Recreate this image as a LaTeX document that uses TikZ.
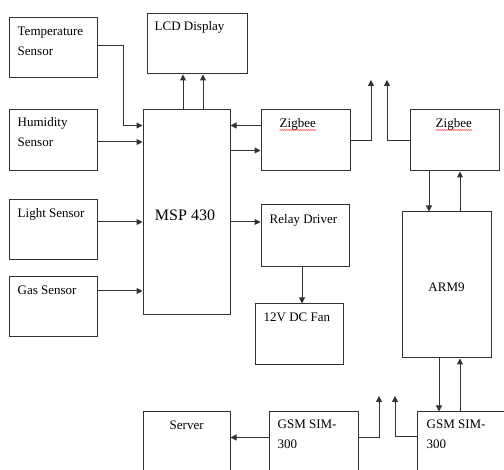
\documentclass[tikz,border=0pt]{standalone}
\usepackage{fontspec}
\setmainfont{Liberation Serif}
\usetikzlibrary{arrows.meta,decorations.pathmorphing}
\begin{document}
\begin{tikzpicture}[x=1pt, y=-1pt,
    box/.style={draw=black!80, line width=1pt, minimum width=88pt, minimum height=60pt, inner sep=0pt},
    lbl/.style={anchor=base west, inner sep=0pt, align=left, font=\fontsize{13}{20}\selectfont},
    arr/.style={draw=black!80, line width=1pt, -{Triangle[length=6pt,width=6pt]}},
    squig/.style={red, line width=0.4pt, decorate, decoration={snake, amplitude=0.5pt, segment length=2pt}}]
    \useasboundingbox (0,0) rectangle (504,470);
    \clip (0,0) rectangle (504,470);
    \fill[white] (0,0) rectangle (504,470);
    % Sensors
    \node[box] (temp) at (53,48) {};
    \node[box, minimum height=61pt] (humid) at (53,140.5) {};
    \node[box] (light) at (53,230) {};
    \node[box] (gas) at (53,307) {};
    \node[lbl] (temp-t) at ([xshift=9pt,yshift=-38pt]temp.north west) {Temperature\\Sensor};
    \node[lbl] (humid-t) at ([xshift=9pt,yshift=-37pt]humid.north west) {Humidity\\Sensor};
    \node[lbl] (light-t) at ([xshift=9pt,yshift=-18pt]light.north west) {Light Sensor};
    \node[lbl] (gas-t) at ([xshift=9pt,yshift=-18pt]gas.north west) {Gas Sensor};
    % Controller and display
    \node[box, minimum width=87pt, minimum height=205pt] (msp) at (186.5,212.5) {};
    \node[inner sep=0pt, font=\fontsize{16}{20}\selectfont] (msp-t) at ([xshift=-1.5pt,yshift=-106pt]msp.north) {MSP 430};
    \node[box, minimum width=100pt] (lcd) at (197,44) {};
    \node[lbl] (lcd-t) at ([xshift=8pt,yshift=-17pt]lcd.north west) {LCD Display};
    % Zigbee link
    \node[box, minimum width=89pt, minimum height=61pt] (zig1) at (305.5,140.5) {};
    \node[lbl] (zig1-t) at ([xshift=19pt,yshift=-18pt]zig1.north west) {Zigbee};
    \node[box, minimum width=89pt, minimum height=61pt] (zig2) at (454.5,140.5) {};
    \node[lbl] (zig2-t) at ([xshift=26pt,yshift=-18pt]zig2.north west) {Zigbee};
    \draw[squig] ([yshift=-2.5pt]zig1-t.base west) -- ([yshift=-2.5pt]zig1-t.base east);
    \draw[squig] ([yshift=-2.5pt]zig2-t.base west) -- ([yshift=-2.5pt]zig2-t.base east);
    % Fan control
    \node[box, minimum height=62pt] (relay) at (305,236) {};
    \node[lbl] (relay-t) at ([xshift=9pt,yshift=-19pt]relay.north west) {Relay Driver};
    \node[box, minimum height=61pt] (fan) at (299,334.5) {};
    \node[lbl] (fan-t) at ([xshift=9pt,yshift=-18pt]fan.north west) {12V DC Fan};
    % ARM side
    \node[box, minimum width=89pt, minimum height=146pt] (arm) at (446.5,285) {};
    \node[inner sep=0pt, font=\fontsize{13}{20}\selectfont] (arm-t) at ([yshift=-2pt]arm.center) {ARM9};
    % GSM link
    \node[box, minimum width=87pt, minimum height=70pt] (server) at (186.5,447) {};
    \node[lbl] (server-t) at ([xshift=27pt,yshift=-18pt]server.north west) {Server};
    \node[box, minimum width=89pt, minimum height=70pt] (gsm1) at (313.5,447) {};
    \node[lbl] (gsm1-t) at ([xshift=9pt,yshift=-37pt]gsm1.north west) {GSM SIM-\\300};
    \node[box, minimum width=90pt, minimum height=70pt] (gsm2) at (462,447) {};
    \node[lbl] (gsm2-t) at ([xshift=10pt,yshift=-37pt]gsm2.north west) {GSM SIM-\\300};
    % Free ends of the wireless lines
    \coordinate (zig1-up) at (371,80);
    \coordinate (zig2-up) at (387,80);
    \coordinate (gsm1-up) at (379,396);
    \coordinate (gsm2-up) at (395,396);
    % Sensor inputs
    \draw[arr] ([yshift=2pt]temp.east) -- ++(26,0) |- ([yshift=-16pt]msp.north west);
    \draw[arr] ([yshift=-1.5pt]humid.east) -- ([yshift=-1.5pt]humid.east -| msp.west);
    \draw[arr] ([yshift=8pt]light.east) -- ([yshift=8pt]light.east -| msp.west);
    \draw[arr] ([yshift=16pt]gas.east) -- ([yshift=16pt]gas.east -| msp.west);
    % MSP outputs
    \draw[arr] ([xshift=-3.5pt]msp.north) -- ([xshift=-3.5pt]msp.north |- lcd.south);
    \draw[arr] ([xshift=16.5pt]msp.north) -- ([xshift=16.5pt]msp.north |- lcd.south);
    \draw[arr] ([yshift=-16pt]zig1.north west) -- ([yshift=-16pt]zig1.north west -| msp.east);
    \draw[arr] ([yshift=-41pt]msp.north east) -- ([yshift=-41pt]msp.north east -| zig1.west);
    \draw[arr] ([yshift=14pt]relay.west -| msp.east) -- ([yshift=14pt]relay.west);
    \draw[arr] ([xshift=-3pt]relay.south) -- ([xshift=-3pt]relay.south |- fan.north);
    % Wireless links
    \draw[arr] (zig1.east) -| (zig1-up);
    \draw[arr] (zig2.west) -| (zig2-up);
    \draw[arr] ([yshift=-26pt]gsm1.north east) -| (gsm1-up);
    \draw[arr] ([yshift=-25pt]gsm2.north west) -| (gsm2-up);
    \draw[arr] ([yshift=-26pt]gsm1.north west) -- ([yshift=-26pt]gsm1.north west -| server.east);
    % ARM connections
    \draw[arr] ([xshift=-25.5pt]zig2.south) -- ([xshift=-25.5pt]zig2.south |- arm.north);
    \draw[arr] ([xshift=13.5pt]arm.north) -- ([xshift=13.5pt]arm.north |- zig2.south);
    \draw[arr] ([xshift=-7.5pt]arm.south) -- ([xshift=-7.5pt]arm.south |- gsm2.north);
    \draw[arr] ([xshift=13.5pt]gsm2.north -| arm.south) -- ([xshift=13.5pt]arm.south);
\end{tikzpicture}
\end{document}
